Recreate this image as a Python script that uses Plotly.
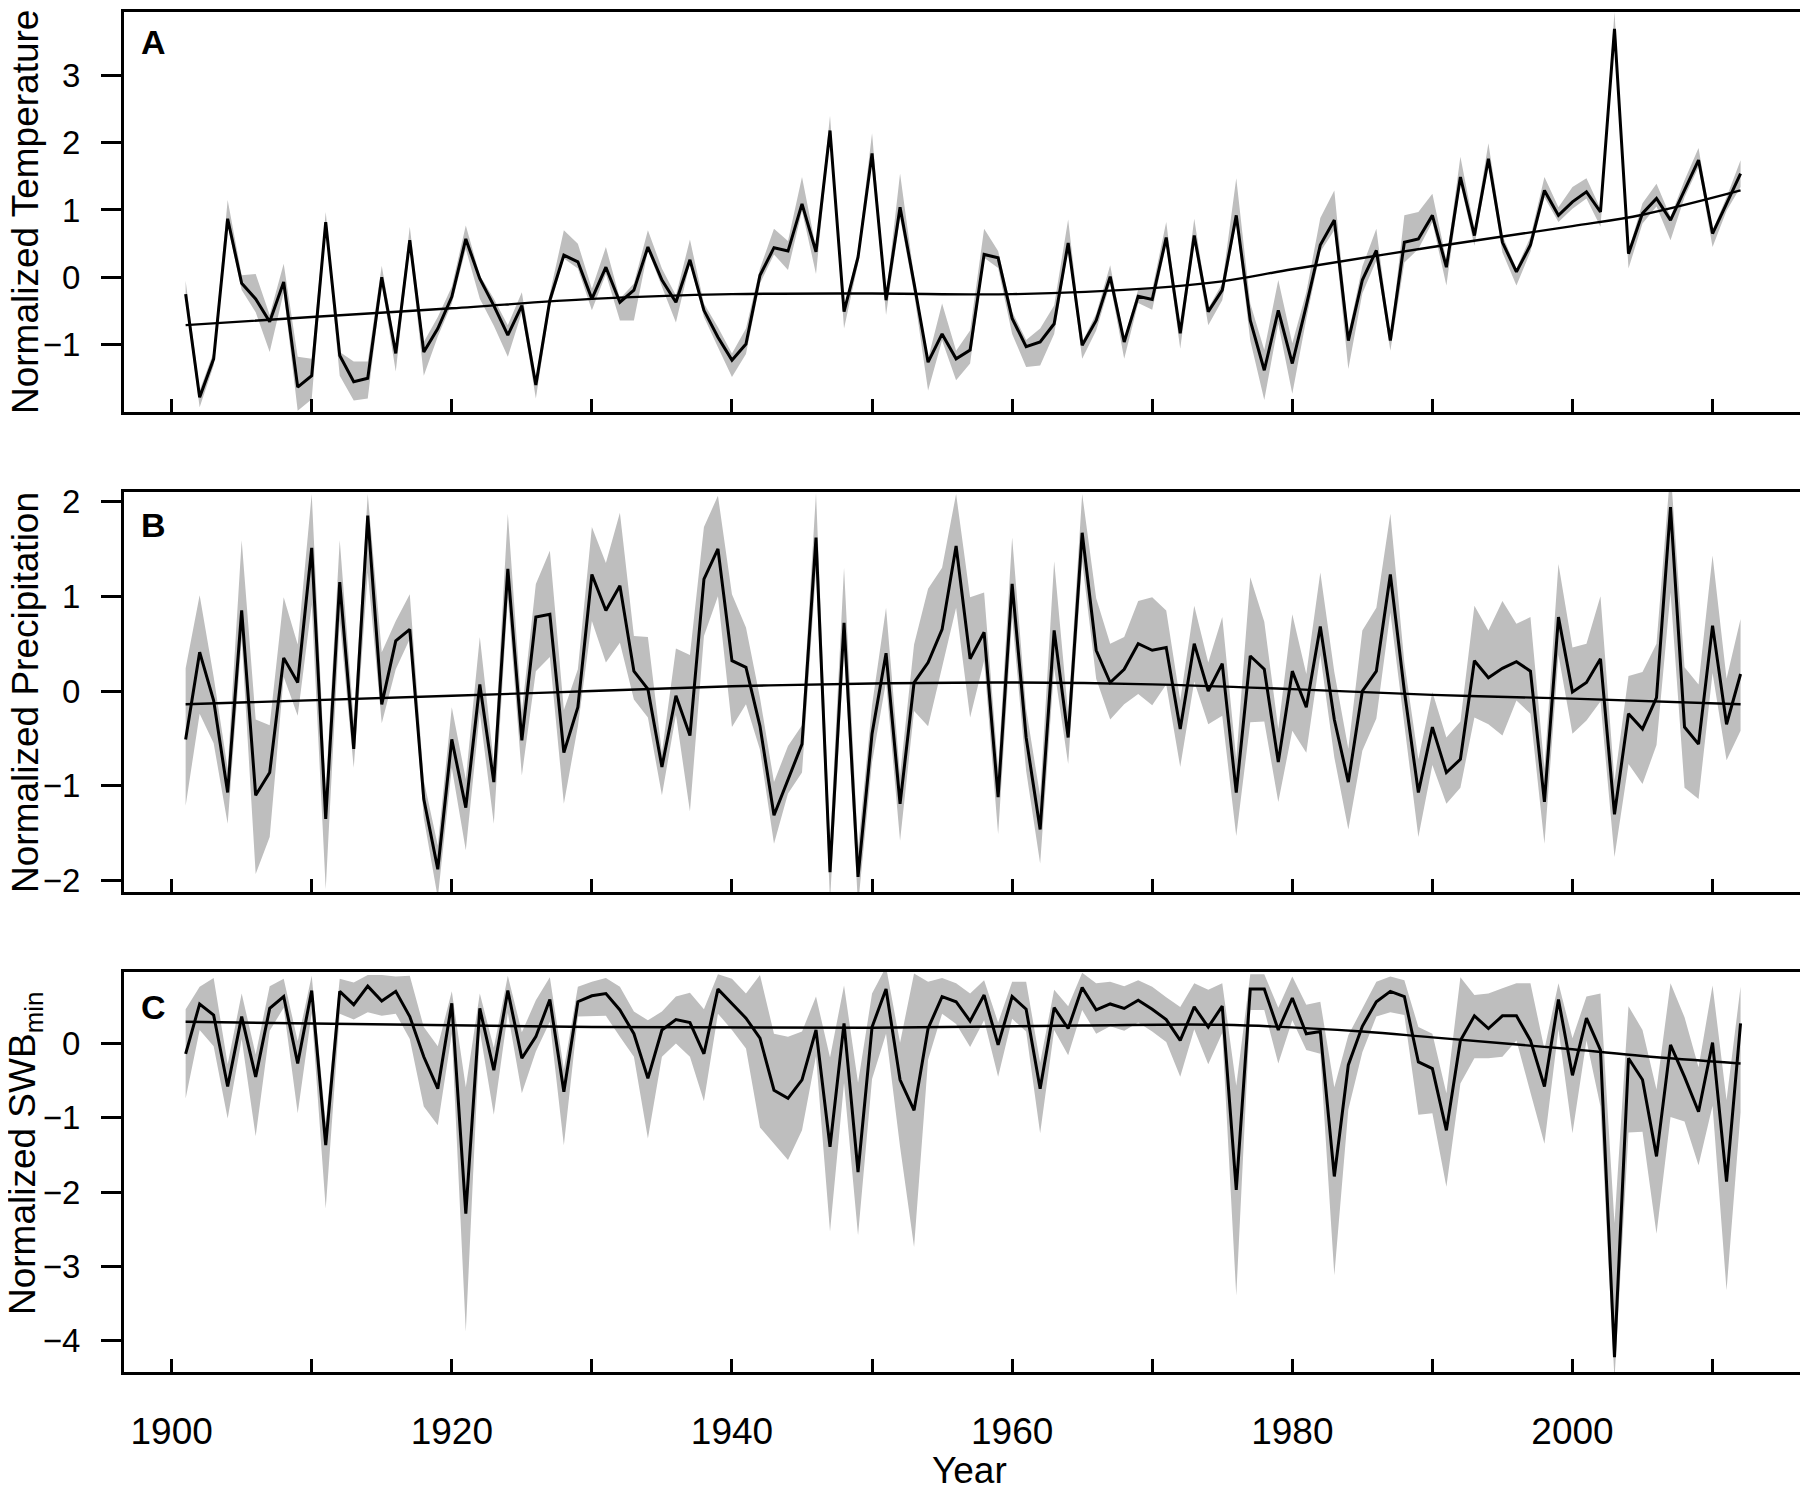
import plotly.graph_objects as go

years = list(range(1901, 2013))

# panel A - normalized temperature
temp = [
    -0.25, -1.78, -1.21, 0.87, -0.09, -0.32, -0.66, -0.07, -1.63, -1.46,
    0.82, -1.16, -1.55, -1.50, 0.00, -1.13, 0.55, -1.11, -0.76, -0.29,
    0.57, -0.02, -0.42, -0.86, -0.42, -1.60, -0.34, 0.33, 0.23, -0.32,
    0.15, -0.37, -0.19, 0.45, -0.04, -0.37, 0.26, -0.49, -0.89, -1.23,
    -0.99, 0.03, 0.44, 0.39, 1.09, 0.38, 2.18, -0.51, 0.30, 1.84,
    -0.34, 1.04, -0.09, -1.26, -0.84, -1.21, -1.08, 0.34, 0.29, -0.61,
    -1.03, -0.96, -0.69, 0.51, -1.01, -0.64, 0.01, -0.96, -0.28, -0.33,
    0.59, -0.83, 0.62, -0.51, -0.19, 0.92, -0.64, -1.38, -0.49, -1.28,
    -0.42, 0.48, 0.85, -0.94, -0.04, 0.40, -0.94, 0.52, 0.57, 0.92,
    0.15, 1.49, 0.62, 1.76, 0.52, 0.08, 0.48, 1.29, 0.92, 1.12,
    1.27, 0.97, 3.69, 0.35, 0.95, 1.17, 0.85, 1.29, 1.74, 0.65,
    1.09, 1.54,
]
temp_up = [
    0.2, 0.1, 0.1, 0.28, 0.12, 0.37, 0.1, 0.27, 0.45, 0.25,
    0.15, 0.05, 0.3, 0.25, 0.17, 0.1, 0.2, 0.15, 0.17, 0.15,
    0.2, 0.05, 0.1, 0.15, 0.2, 0.1, 0.1, 0.37, 0.27, 0.15,
    0.3, 0.05, 0.1, 0.25, 0.17, 0.1, 0.3, 0.1, 0.15, 0.1,
    0.23, 0.1, 0.28, 0.15, 0.4, 0.05, 0.22, 0.05, 0.1, 0.3,
    0.05, 0.5, 0.1, 0.05, 0.45, 0.12, 0.29, 0.38, 0.1, 0.1,
    0.1, 0.2, 0.27, 0.35, 0.05, 0.1, 0.17, 0.05, 0.1, 0.15,
    0.23, 0.05, 0.25, 0.05, 0.1, 0.55, 0.25, 0.3, 0.45, 0.3,
    0.2, 0.4, 0.44, 0.1, 0.2, 0.32, 0.05, 0.4, 0.4, 0.32,
    0.1, 0.3, 0.1, 0.23, 0.1, 0.05, 0.12, 0.2, 0.12, 0.22,
    0.2, 0.05, 0.25, 0.05, 0.15, 0.22, 0.05, 0.15, 0.18, 0.05,
    0.1, 0.2,
]
temp_dn = [
    0.1, 0.15, 0.1, 0.1, 0.1, 0.2, 0.45, 0.15, 0.35, 0.35,
    0.1, 0.3, 0.28, 0.3, 0.1, 0.27, 0.1, 0.35, 0.12, 0.1,
    0.15, 0.3, 0.3, 0.32, 0.1, 0.2, 0.1, 0.05, 0.1, 0.17,
    0.1, 0.27, 0.45, 0.05, 0.1, 0.3, 0.05, 0.1, 0.15, 0.25,
    0.15, 0.12, 0.1, 0.28, 0.1, 0.33, 0.05, 0.25, 0.1, 0.05,
    0.22, 0.15, 0.15, 0.42, 0.1, 0.32, 0.2, 0.05, 0.15, 0.23,
    0.3, 0.35, 0.15, 0.1, 0.2, 0.15, 0.1, 0.25, 0.1, 0.15,
    0.1, 0.23, 0.1, 0.2, 0.15, 0.1, 0.3, 0.44, 0.2, 0.45,
    0.2, 0.1, 0.15, 0.42, 0.2, 0.15, 0.15, 0.3, 0.15, 0.1,
    0.27, 0.1, 0.15, 0.1, 0.15, 0.2, 0.1, 0.1, 0.1, 0.1,
    0.1, 0.22, 0.1, 0.22, 0.15, 0.12, 0.3, 0.1, 0.1, 0.2,
    0.1, 0.2,
]
temp_trend_years = [1901, 1910, 1920, 1930, 1940, 1950, 1960, 1970, 1975, 1980, 1990, 2000, 2005, 2012]
temp_trend = [-0.71, -0.59, -0.46, -0.32, -0.25, -0.24, -0.25, -0.16, -0.06, 0.12, 0.45, 0.76, 0.93, 1.29]

# panel B - normalized precipitation
precip = [
    -0.51, 0.41, -0.10, -1.07, 0.85, -1.10, -0.86, 0.35, 0.09, 1.51,
    -1.35, 1.15, -0.61, 1.85, -0.14, 0.53, 0.65, -1.14, -1.88, -0.51,
    -1.23, 0.07, -0.96, 1.29, -0.52, 0.78, 0.81, -0.65, -0.17, 1.23,
    0.85, 1.11, 0.21, 0.02, -0.80, -0.05, -0.47, 1.18, 1.50, 0.32,
    0.25, -0.37, -1.31, -0.93, -0.56, 1.62, -1.91, 0.72, -1.96, -0.45,
    0.40, -1.19, 0.09, 0.30, 0.65, 1.53, 0.34, 0.62, -1.12, 1.13,
    -0.49, -1.46, 0.64, -0.49, 1.67, 0.43, 0.09, 0.23, 0.50, 0.43,
    0.46, -0.40, 0.50, 0.00, 0.29, -1.07, 0.37, 0.23, -0.75, 0.21,
    -0.17, 0.68, -0.30, -0.96, 0.00, 0.21, 1.23, 0.00, -1.07, -0.38,
    -0.86, -0.72, 0.32, 0.14, 0.24, 0.31, 0.21, -1.17, 0.78, -0.01,
    0.09, 0.34, -1.30, -0.24, -0.40, -0.07, 1.94, -0.38, -0.56, 0.69,
    -0.35, 0.18,
]
precip_up = [
    0.75, 0.6, 0.25, 0.25, 0.74, 0.8, 0.5, 0.64, 0.4, 0.57,
    0.3, 0.44, 0.3, 0.23, 0.55, 0.21, 0.37, 0.2, 0.25, 0.34,
    0.3, 0.5, 0.2, 0.58, 0.3, 0.35, 0.67, 0.45, 0.4, 0.5,
    0.5, 0.77, 0.37, 0.55, 0.15, 0.5, 0.85, 0.55, 0.56, 0.7,
    0.42, 0.3, 0.35, 0.35, 0.2, 0.47, 0.3, 0.58, 0.3, 0.3,
    0.48, 0.3, 0.4, 0.78, 0.65, 0.55, 0.65, 0.42, 0.3, 0.49,
    0.3, 0.35, 0.73, 0.25, 0.41, 0.55, 0.41, 0.34, 0.45, 0.56,
    0.39, 0.3, 0.4, 0.3, 0.49, 0.35, 0.83, 0.5, 0.35, 0.6,
    0.35, 0.57, 0.5, 0.35, 0.64, 0.67, 0.64, 0.3, 0.35, 0.37,
    0.37, 0.4, 0.58, 0.5, 0.71, 0.4, 0.57, 0.35, 0.56, 0.47,
    0.41, 0.66, 0.35, 0.4, 0.6, 0.57, 0.4, 0.63, 0.63, 0.74,
    0.48, 0.58,
]
precip_dn = [
    0.7, 0.65, 0.45, 0.33, 0.3, 0.83, 0.68, 0.2, 0.35, 0.6,
    0.74, 0.4, 0.2, 0.6, 0.2, 0.3, 0.1, 0.2, 0.3, 0.3,
    0.45, 0.3, 0.44, 0.3, 0.37, 0.57, 0.45, 0.54, 0.2, 0.49,
    0.55, 0.6, 0.3, 0.3, 0.3, 0.2, 0.8, 0.6, 0.5, 0.7,
    0.39, 0.25, 0.3, 0.15, 0.3, 0.35, 0.3, 0.3, 0.3, 0.3,
    0.3, 0.39, 0.3, 0.67, 0.4, 0.65, 0.62, 0.3, 0.39, 0.35,
    0.35, 0.36, 0.4, 0.28, 0.3, 0.3, 0.39, 0.37, 0.53, 0.58,
    0.39, 0.4, 0.4, 0.35, 0.55, 0.46, 0.7, 0.55, 0.42, 0.63,
    0.48, 0.3, 0.4, 0.5, 0.63, 0.5, 0.4, 0.35, 0.47, 0.4,
    0.33, 0.3, 0.6, 0.49, 0.71, 0.41, 0.45, 0.44, 0.4, 0.44,
    0.4, 0.45, 0.45, 0.53, 0.58, 0.5, 0.9, 0.64, 0.58, 0.5,
    0.38, 0.6,
]
precip_trend_years = [1901, 1920, 1930, 1940, 1950, 1960, 1970, 1980, 1990, 2000, 2012]
precip_trend = [-0.14, -0.05, 0.00, 0.05, 0.08, 0.09, 0.07, 0.02, -0.04, -0.08, -0.14]

# panel C - normalized SWBmin
swb = [
    -0.14, 0.53, 0.38, -0.58, 0.36, -0.45, 0.47, 0.63, -0.27, 0.71,
    -1.37, 0.70, 0.52, 0.77, 0.57, 0.70, 0.36, -0.18, -0.61, 0.54,
    -2.29, 0.47, -0.36, 0.71, -0.20, 0.09, 0.59, -0.65, 0.56, 0.64,
    0.67, 0.45, 0.13, -0.47, 0.18, 0.32, 0.28, -0.14, 0.73, 0.54,
    0.34, 0.07, -0.63, -0.74, -0.49, 0.18, -1.39, 0.27, -1.73, 0.22,
    0.73, -0.49, -0.90, 0.20, 0.63, 0.56, 0.30, 0.65, -0.02, 0.63,
    0.46, -0.61, 0.48, 0.20, 0.75, 0.45, 0.53, 0.47, 0.58, 0.46,
    0.32, 0.04, 0.49, 0.22, 0.50, -1.97, 0.73, 0.73, 0.18, 0.61,
    0.13, 0.16, -1.79, -0.29, 0.23, 0.56, 0.70, 0.63, -0.25, -0.34,
    -1.17, 0.04, 0.37, 0.20, 0.37, 0.37, 0.04, -0.58, 0.59, -0.43,
    0.34, -0.09, -4.22, -0.20, -0.49, -1.52, -0.02, -0.45, -0.92, 0.01,
    -1.86, 0.27,
]
swb_up = [
    0.6, 0.23, 0.5, 0.3, 0.31, 0.3, 0.3, 0.24, 0.3, 0.2,
    0.3, 0.17, 0.3, 0.15, 0.35, 0.2, 0.55, 0.4, 0.57, 0.16,
    1.7, 0.2, 0.3, 0.2, 0.35, 0.49, 0.3, 0.3, 0.2, 0.19,
    0.21, 0.31, 0.3, 0.78, 0.25, 0.31, 0.4, 0.6, 0.2, 0.33,
    0.33, 0.85, 0.76, 0.83, 0.65, 0.45, 1.2, 0.51, 1.2, 0.45,
    0.3, 0.5, 1.84, 0.63, 0.25, 0.25, 0.37, 0.2, 0.3, 0.2,
    0.37, 0.35, 0.24, 0.3, 0.2, 0.36, 0.3, 0.3, 0.27, 0.3,
    0.3, 0.45, 0.32, 0.5, 0.31, 1.4, 0.2, 0.2, 0.3, 0.29,
    0.39, 0.4, 1.2, 0.4, 0.24, 0.27, 0.2, 0.22, 0.47, 0.47,
    0.5, 0.85, 0.28, 0.47, 0.37, 0.44, 0.77, 0.5, 0.22, 0.5,
    0.29, 0.76, 1.8, 0.7, 0.67, 0.9, 0.83, 0.8, 0.6, 0.77,
    1.1, 0.49,
]
swb_dn = [
    0.6, 0.35, 0.42, 0.43, 0.3, 0.8, 0.3, 0.15, 0.67, 0.3,
    0.85, 0.3, 0.2, 0.35, 0.2, 0.3, 0.3, 0.67, 0.49, 0.41,
    1.59, 0.3, 0.6, 0.3, 0.47, 0.2, 0.3, 0.72, 0.2, 0.28,
    0.3, 0.36, 0.31, 0.81, 0.36, 0.32, 0.46, 0.64, 0.33, 0.36,
    0.41, 1.2, 0.72, 0.83, 0.68, 0.35, 1.14, 0.8, 0.85, 0.7,
    0.6, 0.9, 1.84, 0.42, 0.23, 0.3, 0.35, 0.34, 0.43, 0.3,
    0.3, 0.6, 0.3, 0.36, 0.3, 0.32, 0.3, 0.3, 0.3, 0.3,
    0.3, 0.49, 0.3, 0.5, 0.36, 1.42, 0.28, 0.28, 0.45, 0.3,
    0.22, 0.3, 1.33, 0.6, 0.35, 0.2, 0.28, 0.25, 0.71, 0.6,
    0.76, 0.58, 0.57, 0.4, 0.55, 0.33, 0.7, 0.77, 0.4, 0.78,
    0.3, 0.76, 0.3, 1.0, 0.7, 1.04, 0.97, 0.6, 0.72, 0.85,
    1.46, 1.2,
]
swb_trend_years = [1901, 1930, 1950, 1965, 1975, 1985, 1990, 2000, 2005, 2012]
swb_trend = [0.29, 0.22, 0.21, 0.24, 0.25, 0.16, 0.08, -0.08, -0.17, -0.27]

decades = list(range(1900, 2011, 10))
decade_labels = [str(d) if d % 20 == 0 else "" for d in decades]

FONT = "Liberation Sans, Arial, sans-serif"
GREY = "#BEBEBE"

panels = [
    (temp, temp_up, temp_dn, temp_trend_years, temp_trend),
    (precip, precip_up, precip_dn, precip_trend_years, precip_trend),
    (swb, swb_up, swb_dn, swb_trend_years, swb_trend),
]

fig = go.Figure()

for i, (vals, up, dn, ty, tv) in enumerate(panels):
    xa = "x" if i == 0 else f"x{i + 1}"
    ya = "y" if i == 0 else f"y{i + 1}"
    lo = [v - d for v, d in zip(vals, dn)]
    hi = [v + u for v, u in zip(vals, up)]
    fig.add_trace(go.Scatter(x=years, y=lo, mode="lines", line=dict(width=0, color=GREY),
                             xaxis=xa, yaxis=ya, showlegend=False, hoverinfo="skip"))
    fig.add_trace(go.Scatter(x=years, y=hi, mode="lines", line=dict(width=0, color=GREY),
                             fill="tonexty", fillcolor=GREY,
                             xaxis=xa, yaxis=ya, showlegend=False, hoverinfo="skip"))
    fig.add_trace(go.Scatter(x=years, y=vals, mode="lines", line=dict(width=3, color="black"),
                             xaxis=xa, yaxis=ya, showlegend=False))
    fig.add_trace(go.Scatter(x=ty, y=tv, mode="lines", line=dict(width=2.4, color="black", shape="spline"),
                             xaxis=xa, yaxis=ya, showlegend=False))

x_common = dict(
    range=[1896.6, 2016.6], showline=True, mirror=True, linecolor="black", linewidth=3,
    ticks="inside", ticklen=13, tickwidth=3, tickcolor="black", automargin=False,
    tickvals=decades, ticktext=decade_labels, showgrid=False, zeroline=False,
    tickfont=dict(family=FONT, size=37, color="black"),
)
y_common = dict(
    showline=True, mirror=True, linecolor="black", linewidth=3,
    ticks="outside", ticklen=20, tickwidth=3, tickcolor="black", automargin=False,
    showgrid=False, zeroline=False, ticklabelstandoff=14,
    tickfont=dict(family=FONT, size=33, color="black"),
)

domains = [[0.70588, 1.0], [0.35294, 0.64706], [0.0, 0.29412]]

# page body adds an 8px offset, so the figure is 8px smaller and shifted
fig.update_layout(
    width=1800, height=1478,
    margin=dict(l=116, r=3, t=4, b=114),
    paper_bgcolor="white", plot_bgcolor="white",
    font=dict(family=FONT, color="black"),
    xaxis=dict(x_common, domain=[0, 1], anchor="y", showticklabels=False),
    xaxis2=dict(x_common, domain=[0, 1], anchor="y2", showticklabels=False),
    xaxis3=dict(x_common, domain=[0, 1], anchor="y3", ticklabelstandoff=25),
    yaxis=dict(y_common, domain=domains[0], anchor="x", range=[-2.0, 3.94], tickvals=[-1, 0, 1, 2, 3]),
    yaxis2=dict(y_common, domain=domains[1], anchor="x2", range=[-2.12, 2.1], tickvals=[-2, -1, 0, 1, 2]),
    yaxis3=dict(y_common, domain=domains[2], anchor="x3", range=[-4.42, 0.96], tickvals=[-4, -3, -2, -1, 0]),
)

y_titles = ["Normalized Temperature", "Normalized Precipitation", "Normalized SWB<sub>min</sub>"]
title_y = [0.8529, 0.5, 0.161]
for txt, yy in zip(y_titles, title_y):
    fig.add_annotation(text=txt, xref="paper", yref="paper", x=-0.0589, y=yy,
                       xanchor="center", yanchor="middle", textangle=-90, showarrow=False,
                       font=dict(family=FONT, size=37, color="black"))

for letter, yy in zip(["A", "B", "C"], [0.978, 0.6228, 0.2684]):
    fig.add_annotation(text=f"<b>{letter}</b>", xref="paper", yref="paper", x=0.0173, y=yy,
                       xanchor="center", yanchor="middle", showarrow=False,
                       font=dict(family=FONT, size=34, color="black"))

fig.add_annotation(text="Year", xref="paper", yref="paper", x=0.5027, y=-0.0725,
                   xanchor="center", yanchor="middle", showarrow=False,
                   font=dict(family=FONT, size=37, color="black"))

fig.write_html("out.html")
